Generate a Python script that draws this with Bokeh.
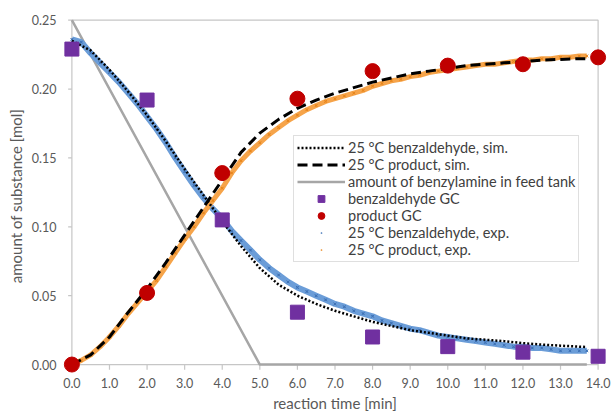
from bokeh.plotting import figure
from bokeh.models import (Range1d, FixedTicker, NumeralTickFormatter, Legend, LegendItem)
from bokeh.embed import file_html
from bokeh.resources import INLINE

# ---------------- data ----------------
t_gc = [0.0, 2.0, 4.0, 6.0, 8.0, 10.0, 12.0, 14.0]
benz_gc = [0.229, 0.192, 0.105, 0.038, 0.020, 0.013, 0.009, 0.006]
prod_gc = [0.000, 0.052, 0.139, 0.193, 0.213, 0.217, 0.218, 0.223]

t_feed = [0.0, 5.0, 13.7]
feed = [0.25, 0.0, 0.0]

t_sim = [0.0, 0.5, 1.0, 1.5, 2.0, 2.5, 3.0, 3.5, 4.0, 4.5, 5.0, 5.5, 6.0, 6.5, 7.0,
         7.5, 8.0, 8.5, 9.0, 9.5, 10.0, 10.5, 11.0, 11.5, 12.0, 12.5, 13.0, 13.5, 13.7]
benz_sim = [0.235, 0.228, 0.214, 0.198, 0.181, 0.162, 0.142, 0.123, 0.104, 0.086, 0.070,
            0.058, 0.050, 0.044, 0.039, 0.035, 0.031, 0.028, 0.025, 0.023, 0.021, 0.019,
            0.018, 0.017, 0.0155, 0.0145, 0.0137, 0.013, 0.0127]
prod_sim = [0.000, 0.007, 0.020, 0.038, 0.055, 0.074, 0.094, 0.114, 0.134, 0.154, 0.168,
            0.178, 0.186, 0.192, 0.197, 0.201, 0.205, 0.208, 0.211, 0.213, 0.215, 0.217,
            0.218, 0.219, 0.220, 0.221, 0.2215, 0.222, 0.222]

t_exp = [0.0, 0.25, 0.5, 0.75, 1.0, 1.25, 1.5, 1.75, 2.0, 2.25, 2.5, 2.75, 3.0, 3.25,
         3.5, 3.75, 4.0, 4.25, 4.5, 4.75, 5.0, 5.25, 5.5, 5.75, 6.0, 6.25, 6.5, 6.75,
         7.0, 7.25, 7.5, 7.75, 8.0, 8.25, 8.5, 8.75, 9.0, 9.25, 9.5, 9.75, 10.0, 10.25,
         10.5, 10.75, 11.0, 11.25, 11.5, 11.75, 12.0, 12.25, 12.5, 12.75, 13.0, 13.25,
         13.5, 13.7]
benz_exp = [0.236, 0.234, 0.226, 0.219, 0.212, 0.205, 0.197, 0.189,
            0.180, 0.171, 0.161, 0.150, 0.140, 0.130, 0.121, 0.113,
            0.106, 0.097, 0.090, 0.083, 0.076, 0.070, 0.065, 0.060,
            0.056, 0.053, 0.050, 0.047, 0.044, 0.042, 0.039, 0.037,
            0.035, 0.032, 0.030, 0.028, 0.026, 0.025, 0.023, 0.021,
            0.020, 0.019, 0.018, 0.017, 0.016, 0.015, 0.014, 0.013,
            0.013, 0.012, 0.012, 0.011, 0.010, 0.010, 0.010, 0.010]
prod_exp = [0.000, 0.003, 0.007, 0.013, 0.020, 0.028, 0.037, 0.045,
            0.053, 0.061, 0.071, 0.081, 0.091, 0.100, 0.110, 0.119,
            0.128, 0.139, 0.148, 0.155, 0.161, 0.167, 0.172, 0.177,
            0.181, 0.185, 0.188, 0.191, 0.193, 0.195, 0.197, 0.199,
            0.202, 0.204, 0.206, 0.207, 0.209, 0.210, 0.212, 0.213,
            0.214, 0.215, 0.216, 0.217, 0.218, 0.218, 0.219, 0.220,
            0.221, 0.221, 0.222, 0.222, 0.223, 0.223, 0.224, 0.224]

x_ticks = [0.0, 1.0, 2.0, 3.0, 4.0, 5.0, 6.0, 7.0, 8.0, 9.0, 10.0, 11.0, 12.0, 13.0, 14.0]
y_ticks = [0.00, 0.05, 0.10, 0.15, 0.20, 0.25]
x_min, x_max = 0.0, 14.0
y_min, y_max = 0.0, 0.25

labels = ["25 °C benzaldehyde, sim.", "25 °C product, sim.",
          "amount of benzylamine in feed tank", "benzaldehyde GC", "product GC",
          "25 °C benzaldehyde, exp.", "25 °C product, exp."]

FONT = "Lato"
GRID = "#c6c6c6"
BLUE_BAND, BLUE_PT = "#6b9dd8", "#3e72b6"
ORANGE_BAND, ORANGE_PT = "#f6a44a", "#e8861c"

p = figure(width=613, height=414, output_backend="svg", toolbar_location=None,
           x_range=Range1d(-0.25, 14.25), y_range=Range1d(-0.0065, 0.2512),
           min_border_left=62, min_border_right=6, min_border_top=18, min_border_bottom=41)
p.outline_line_color = None
p.xgrid.visible = False
p.ygrid.visible = False
p.background_fill_color = "white"
p.border_fill_color = "white"

# frame border and tick marks
p.quad(left=[x_min], right=[x_max], bottom=[y_min], top=[y_max], fill_color=None,
       line_color=GRID, line_width=1.2)
p.segment(x0=x_ticks, x1=x_ticks, y0=[y_min] * len(x_ticks), y1=[y_min - 0.0038] * len(x_ticks),
          line_color=GRID, line_width=1.2)
p.segment(x0=[x_min] * len(y_ticks), x1=[x_min - 0.1] * len(y_ticks), y0=y_ticks, y1=y_ticks,
          line_color=GRID, line_width=1.2)

# axes
for ax in (p.xaxis[0], p.yaxis[0]):
    ax.axis_line_color = None
    ax.major_tick_line_color = None
    ax.minor_tick_line_color = None
    ax.major_tick_out = 0
    ax.major_tick_in = 0
    ax.major_label_text_font = FONT
    ax.major_label_text_font_size = "12.5px"
    ax.major_label_text_color = "#595959"
    ax.axis_label_text_font = FONT
    ax.axis_label_text_font_size = "15px"
    ax.axis_label_text_font_style = "normal"
    ax.axis_label_text_color = "#595959"

p.xaxis.ticker = FixedTicker(ticks=x_ticks)
p.xaxis.formatter = NumeralTickFormatter(format="0.0")
p.xaxis.axis_label = "reaction time [min]"
p.xaxis.major_label_standoff = 4
p.xaxis.axis_label_standoff = 3

p.yaxis.ticker = FixedTicker(ticks=y_ticks)
p.yaxis.formatter = NumeralTickFormatter(format="0.00")
p.yaxis.axis_label = "amount of substance [mol]"
p.yaxis.major_label_standoff = 6
p.yaxis.axis_label_standoff = 4

# feed tank line
r_feed = p.line(t_feed, feed, line_color="#a6a6a6", line_width=2.5)

# experimental bands
p.line(t_exp, benz_exp, line_color=BLUE_BAND, line_width=6)
p.scatter(t_exp, benz_exp, marker="x", size=4, line_color=BLUE_PT, line_width=1)
r_bexp = p.scatter(t_exp, benz_exp, marker="dot", size=8, line_color=BLUE_PT, fill_color=BLUE_PT)
p.line(t_exp, prod_exp, line_color=ORANGE_BAND, line_width=5)
p.scatter(t_exp, prod_exp, marker="x", size=4, line_color=ORANGE_PT, line_width=1)
r_pexp = p.scatter(t_exp, prod_exp, marker="dot", size=8, line_color=ORANGE_PT, fill_color=ORANGE_PT)

# simulations
r_bsim = p.line(t_sim, benz_sim, line_color="black", line_width=2.5, line_dash="2 2")
r_psim = p.line(t_sim, prod_sim, line_color="black", line_width=3, line_dash="10 5")

# GC
r_bgc = p.scatter(t_gc, benz_gc, marker="square", size=14, fill_color="#7030a0",
                  line_color="#7030a0")
r_pgc = p.scatter(t_gc, prod_gc, marker="circle", size=15, fill_color="#c00000",
                  line_color="#c00000")

items = [LegendItem(label=labels[0], renderers=[r_bsim]),
         LegendItem(label=labels[1], renderers=[r_psim]),
         LegendItem(label=labels[2], renderers=[r_feed]),
         LegendItem(label=labels[3], renderers=[r_bgc]),
         LegendItem(label=labels[4], renderers=[r_pgc]),
         LegendItem(label=labels[5], renderers=[r_bexp]),
         LegendItem(label=labels[6], renderers=[r_pexp])]
legend = Legend(items=items, location=(231, 111), orientation="vertical",
                label_text_font=FONT, label_text_font_size="14.5px", label_text_color="#404040",
                glyph_width=48, glyph_height=17, label_height=17, label_standoff=3,
                spacing=0, padding=3, margin=0,
                border_line_color="#bfbfbf", border_line_width=1,
                background_fill_color="white", background_fill_alpha=1.0)
p.add_layout(legend, "center")

open("out.html", "w").write(file_html(p, INLINE))
